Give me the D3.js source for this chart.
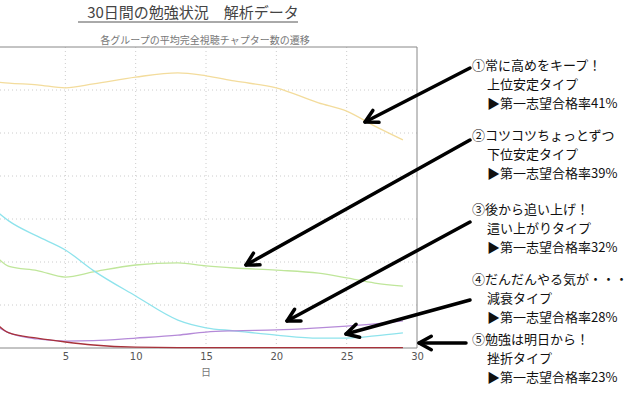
<!DOCTYPE html>
<html>
<head>
<meta charset="utf-8">
<title>30日間の勉強状況</title>
<script src="https://cdnjs.cloudflare.com/ajax/libs/d3/7.8.5/d3.min.js"></script>
<style>
  body { margin:0; background:#fff; font-family:"Noto Sans CJK JP", sans-serif; }
</style>
</head>
<body>
<script>
var days = [0,1,3,5,7,10,13,15,17,20,23,25,27,29]
var upper  = [61.9,61.6,61.2,60.5,61.4,63.0,64.0,63.3,62.1,60.5,57.0,55.1,51.6,48.4]
var lower  = [21.6,19.0,18.0,16.5,17.7,19.3,19.8,19.1,18.6,18.1,17.4,16.3,15.1,14.4]
var rising = [5.3,3.5,2.1,1.6,1.7,2.3,3.0,3.7,4.0,4.2,4.7,5.1,5.6,6.3]
var decline = [32.1,29.5,26.0,22.8,18.0,12.1,6.5,4.7,4.0,3.0,2.3,2.3,2.8,3.5]
var dropout = [6.0,3.5,2.3,1.4,0.7,0.2,0.1,0.1,0.1,0.1,0.1,0.1,0.1,0.1]
var xTicks = [5,10,15,20,25,30]
var notes = [
  ["①常に高めをキープ！","上位安定タイプ","▶第一志望合格率41%"],
  ["②コツコツちょっとずつ","下位安定タイプ","▶第一志望合格率39%"],
  ["③後から追い上げ！","這い上がりタイプ","▶第一志望合格率32%"],
  ["④だんだんやる気が・・・","減衰タイプ","▶第一志望合格率28%"],
  ["⑤勉強は明日から！","挫折タイプ","▶第一志望合格率23%"]
]

var svg = d3.select("body").append("svg").attr("width",640).attr("height",400)

svg.append("text").attr("x",193).attr("y",18).attr("text-anchor","middle")
  .attr("font-size",15).attr("fill","#444").text("30日間の勉強状況　解析データ")
svg.append("line").attr("x1",78).attr("x2",298).attr("y1",22).attr("y2",22)
  .attr("stroke","#555").attr("stroke-width",1)
svg.append("text").attr("x",205).attr("y",44).attr("text-anchor","middle")
  .attr("font-size",10).attr("fill","#777").text("各グループの平均完全視聴チャプター数の遷移")

var xScale = d3.scaleLinear().domain([0,30]).range([-5,417])
var yScale = d3.scaleLinear().domain([0,70]).range([348,47])

var g = svg.append("g")
g.selectAll(".vg").data([5,10,15,20,25]).enter().append("line")
  .attr("x1",d=>xScale(d)).attr("x2",d=>xScale(d)).attr("y1",47).attr("y2",348)
  .attr("stroke","#ccc").attr("stroke-dasharray","1,3")
g.selectAll(".hg").data([10,20,30,40,50,60]).enter().append("line")
  .attr("x1",0).attr("x2",417).attr("y1",d=>yScale(d)).attr("y2",d=>yScale(d))
  .attr("stroke","#ccc").attr("stroke-dasharray","1,3")
g.append("path").attr("d","M0,47H417V348H0").attr("fill","none").attr("stroke","#888")

var xAxis = svg.append("g").attr("transform","translate(0,348)")
  .call(d3.axisBottom(xScale).tickValues(xTicks).tickSize(0).tickPadding(5))
xAxis.select(".domain").remove()
xAxis.selectAll("text").attr("font-size",10).attr("fill","#555").attr("font-family","DejaVu Sans")
svg.append("text").attr("x",206).attr("y",376).attr("text-anchor","middle")
  .attr("font-size",10).attr("fill","#777").text("日")

var line = d3.line().x((d,i)=>xScale(days[i])).y(d=>yScale(d)).curve(d3.curveMonotoneX)
var series = [[upper,"#f3dc9c"],[lower,"#bfe69a"],[decline,"#8ee3ec"],[rising,"#b58ad8"],[dropout,"#a8323a"]]
series.forEach(function(s){
  svg.append("path").datum(s[0]).attr("d",line).attr("fill","none")
    .attr("stroke",s[1]).attr("stroke-width",1.3)
})

var arrows = [[470,68,365,122],[470,140,246,265],[470,222,287,321],[470,300,346,334],[466,343,419,343]]
var ag = svg.selectAll(".arr").data(arrows).enter().append("g")
ag.append("line")
  .attr("x1",d=>d[0]).attr("y1",d=>d[1]).attr("x2",d=>d[2]).attr("y2",d=>d[3])
  .attr("stroke","#000").attr("stroke-width",3.5).attr("stroke-linecap","round")
ag.append("path")
  .attr("d",function(d){
    var a = Math.atan2(d[1]-d[3], d[0]-d[2]), L = 14, s = 0.5
    return "M"+(d[2]+L*Math.cos(a+s))+","+(d[3]+L*Math.sin(a+s))+"L"+d[2]+","+d[3]+
      "L"+(d[2]+L*Math.cos(a-s))+","+(d[3]+L*Math.sin(a-s))
  })
  .attr("fill","none").attr("stroke","#000").attr("stroke-width",3.5)
  .attr("stroke-linecap","round").attr("stroke-linejoin","round")

var ys = [70,140,214,284,344]
notes.forEach(function(n,i){
  n.forEach(function(t,j){
    svg.append("text").attr("x",j ? 487 : 472).attr("y",ys[i]+j*19).attr("font-size",13)
      .attr("fill","#111").text(t)
  })
})
</script>
</body>
</html>
